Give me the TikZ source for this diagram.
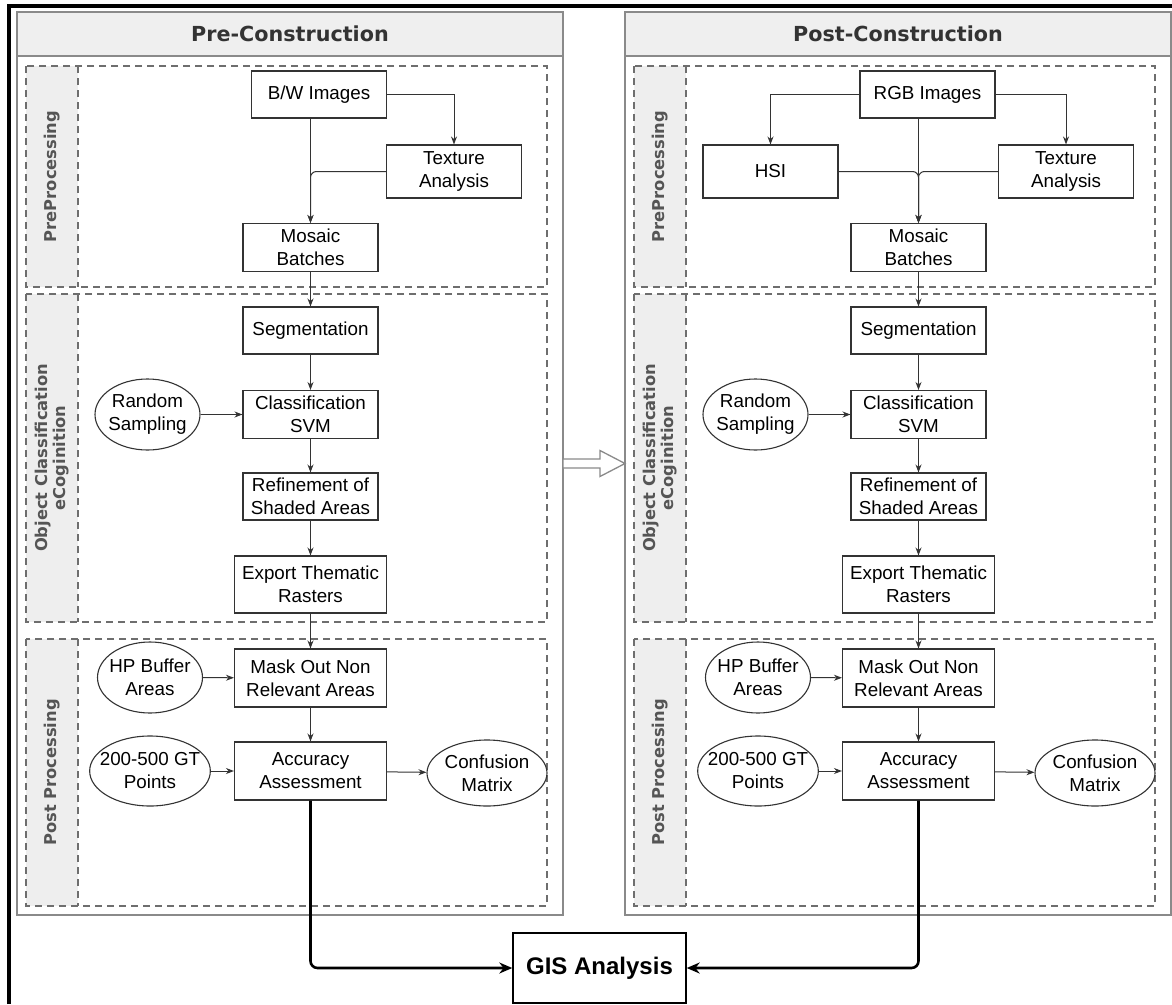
\documentclass[tikz,border=0pt]{standalone}
\usepackage{fontspec}
\setmainfont{Liberation Sans}
\newfontfamily\headfont{DejaVu Sans}
\usetikzlibrary{arrows.meta,shapes.geometric}

\definecolor{headgray}{HTML}{EFEFEF}
\definecolor{bandgray}{HTML}{EEEEEE}
\definecolor{framegray}{HTML}{8A8A8A}
\definecolor{dashgray}{HTML}{6E6E6E}
\definecolor{labelgray}{HTML}{555555}
\definecolor{inkgray}{HTML}{333333}

\tikzset{
  procbox/.style={draw=inkgray, line width=1.1pt, fill=white, align=center, inner sep=2pt,
    minimum width=135pt, minimum height=48pt, font=\fontsize{18.8}{23}\selectfont},
  widebox/.style={procbox, minimum width=152pt, minimum height=58pt},
  inbox/.style={ellipse, draw=inkgray, line width=1.1pt, fill=white, align=center,
    inner xsep=-5pt, inner ysep=0pt, minimum width=105pt, minimum height=71pt,
    font=\fontsize{18.8}{23}\selectfont},
  flow/.style={-{Stealth[length=8pt,width=6pt]}, draw=inkgray, line width=1pt},
  merge/.style={flow, rounded corners=6pt},
  sendline/.style={-{Stealth[length=13pt,width=11pt]}, line width=2.6pt, rounded corners=7pt},
  section/.style={draw=dashgray, line width=1.2pt, dash pattern=on 7pt off 5pt},
  sidelabel/.style={rotate=90, align=center, text=labelgray,
    font=\headfont\bfseries\fontsize{16.3}{18.5}\selectfont},
  headtitle/.style={text=inkgray, font=\headfont\bfseries\fontsize{20.7}{24}\selectfont},
}

\begin{document}
\begin{tikzpicture}[x=1pt,y=-1pt]
\useasboundingbox (0,0) rectangle (1172,1004);
% Outer frame
\draw[line width=4pt] (9,1004) -- (9,6) -- (1172,6);
% Both panels share the same lower workflow
\foreach \s/\dx/\title in {L/0/Pre-Construction, R/608/Post-Construction}{
  \begin{scope}[xshift=\dx]
    % Panel frame and title band
    \draw[framegray, line width=1.5pt, fill=white] (17,12) rectangle (563,915);
    \draw[framegray, line width=1.5pt, fill=headgray] (17,12) rectangle (563,56);
    \node[headtitle] (head\s) at (290,34) {\title};
    % Dashed sections with grey label bands
    \fill[bandgray] (26,66) rectangle (78,287);
    \fill[bandgray] (26,294) rectangle (78,622);
    \fill[bandgray] (26,639) rectangle (78,906);
    \draw[section] (26,66) rectangle (547,287) (78,66) -- (78,287);
    \draw[section] (26,294) rectangle (547,622) (78,294) -- (78,622);
    \draw[section] (26,639) rectangle (547,906) (78,639) -- (78,906);
    \node[sidelabel] (preLab\s) at (52,176.5) {PreProcessing};
    \node[sidelabel] (objLab\s) at (52,458) {Object Classification\\eCoginition};
    \node[sidelabel] (postLab\s) at (52,772.5) {Post Processing};
    % Workflow nodes
    \node[procbox] (mos\s) at (310.5,247.5) {Mosaic\\Batches};
    \node[procbox, minimum height=47pt] (seg\s) at (310.5,330.5) {Segmentation};
    \node[procbox] (cls\s) at (310.5,414.5) {Classification\\SVM};
    \node[inbox] (rnd\s) at (147.5,414.5) {Random\\Sampling};
    \node[procbox, minimum height=47pt] (ref\s) at (310.5,496.5) {Refinement of\\Shaded Areas};
    \node[widebox, minimum height=57pt] (exp\s) at (310.5,584.5) {Export Thematic\\Rasters};
    \node[widebox] (mask\s) at (310.5,678) {Mask Out Non\\Relevant Areas};
    \node[inbox] (hp\s) at (150,677.5) {HP Buffer\\Areas};
    \node[widebox] (acc\s) at (310.5,771) {Accuracy\\Assessment};
    \node[inbox, inner xsep=-7.5pt, minimum width=120pt, minimum height=70pt] (gt\s) at (150,771) {200-500 GT\\Points};
    \node[inbox, minimum width=120pt, minimum height=66pt] (conf\s) at (487,773) {Confusion\\Matrix};
    % Workflow arrows
    \draw[flow] (mos\s) -- (seg\s);
    \draw[flow] (seg\s) -- (cls\s);
    \draw[flow] (cls\s) -- (ref\s);
    \draw[flow] (ref\s) -- (exp\s);
    \draw[flow] (exp\s) -- (mask\s);
    \draw[flow] (mask\s) -- (acc\s);
    \draw[flow] (rnd\s) -- (cls\s);
    \draw[flow] (hp\s) -- (mask\s);
    \draw[flow] (gt\s) -- (acc\s);
    \draw[flow] (acc\s) -- (conf\s);
  \end{scope}
}
% Pre-construction preprocessing
\node[procbox, minimum height=47pt] (bw) at (319,94.5) {B/W Images};
\node[procbox, minimum height=53pt] (texL) at (454,171.5) {Texture\\Analysis};
\draw[flow] (bw.east) -| (texL.north);
\draw[flow] (bw.south -| mosL.north) -- (mosL.north);
\draw[merge] (texL.west) -| (mosL.north);
% Post-construction preprocessing
\node[procbox, minimum height=47pt] (rgb) at (927.5,94.5) {RGB Images};
\node[procbox, minimum height=53pt] (hsi) at (770.5,171.5) {HSI};
\node[procbox, minimum height=53pt] (texR) at (1066,171.5) {Texture\\Analysis};
\draw[flow] (rgb.west) -| (hsi.north);
\draw[flow] (rgb.east) -| (texR.north);
\draw[flow] (rgb.south -| mosR.north) -- (mosR.north);
\draw[merge] (hsi.east) -| (mosR.north);
\draw[merge] (texR.west) -| (mosR.north);
% Hollow arrow between the panels
\coordinate (preE) at (563,463.5);
\coordinate (postW) at (625,463.5);
\draw[framegray, line width=1.3pt, fill=white] (preE) ++(0,-4.5) -- ++(37,0) -- ++(0,-8.5)
  -- (postW) -- ++(-25,13) -- ++(0,-8.5) -- ++(-37,0) -- cycle;
% GIS analysis
\node[draw, line width=1.4pt, fill=white, minimum width=173pt, minimum height=70pt,
  font=\bfseries\fontsize{24}{28}\selectfont] (gis) at (599.5,968) {GIS Analysis};
\draw[sendline] (accL.south) |- (gis.west);
\draw[sendline] (accR.south) |- (gis.east);
\end{tikzpicture}
\end{document}
